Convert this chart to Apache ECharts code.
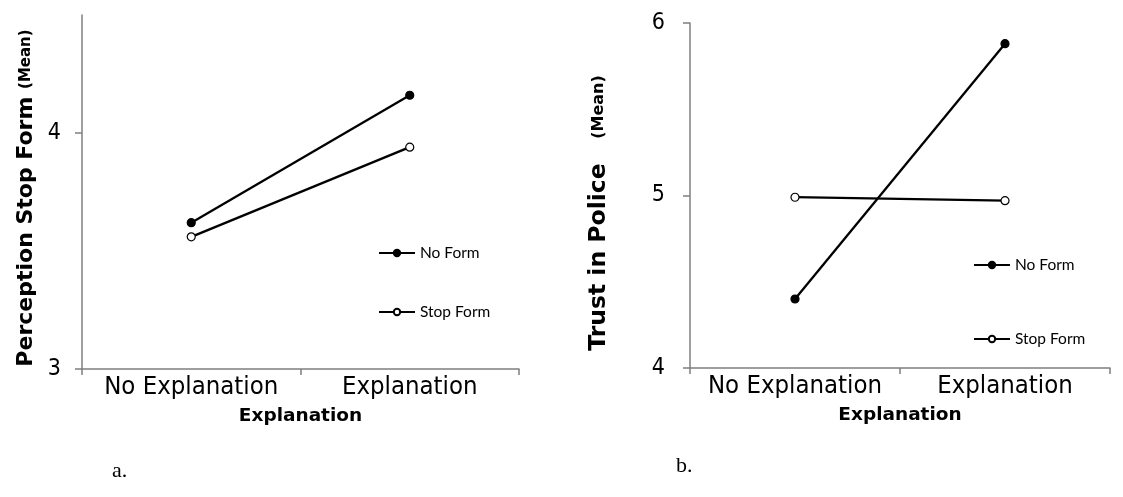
<!DOCTYPE html>
<html><head><meta charset="utf-8">
<script src="https://cdn.jsdelivr.net/npm/echarts@6/dist/echarts.min.js"></script>
<style>html,body{margin:0;padding:0;background:#fff}#c{width:1123px;height:497px}</style>
</head><body><div id="c"></div>
<script>
const categories = ['No Explanation', 'Explanation'];
const seriesNames = ['No Form', 'Stop Form'];
const perceptionNoForm = [3.62, 4.16];
const perceptionStopForm = [3.56, 3.94];
const trustNoForm = [4.40, 5.88];
const trustStopForm = [4.99, 4.97];
const leftTicks = [3, 4];
const rightTicks = [4, 5, 6];

const FONT = 'DejaVu Sans';
const axisGray = '#7f7f7f';

function xAxis(gridIndex, nameGap) {
  return {
    type: 'category', gridIndex, data: categories, boundaryGap: true,
    name: 'Explanation', nameLocation: 'middle', nameGap,
    nameTextStyle: {fontFamily: FONT, fontWeight: 'bold', fontSize: 18.5, color: '#000'},
    axisLine: {lineStyle: {color: axisGray, width: 1.5}},
    axisTick: {show: true, interval: 0, length: 6, lineStyle: {color: axisGray, width: 1.5}},
    axisLabel: {interval: 0, hideOverlap: false, fontFamily: 'DejaVu Sans Condensed', fontSize: 25.5, color: '#000', margin: 5}
  };
}
function yAxis(gridIndex, min, max, ticks, margin) {
  return {
    type: 'value', gridIndex, min, max, interval: 1,
    splitLine: {show: false},
    axisLine: {show: true, lineStyle: {color: axisGray, width: 1.5}},
    axisTick: {show: true, length: 7, customValues: ticks, lineStyle: {color: axisGray, width: 1.5}},
    axisLabel: {fontFamily: 'DejaVu Sans Condensed', fontSize: 23, color: '#000', margin, customValues: ticks}
  };
}
function line(name, data, idx, filled) {
  return {
    name, type: 'line', xAxisIndex: idx, yAxisIndex: idx, data,
    symbol: 'circle', symbolSize: 8,
    lineStyle: {color: '#000', width: 2.3},
    itemStyle: {color: filled ? '#000' : '#fff', borderColor: '#000', borderWidth: 1.2},
    emphasis: {disabled: true}, animation: false
  };
}
const chart = echarts.init(document.getElementById('c'));
chart.setOption({
  backgroundColor: '#fff',
  animation: false,
  grid: [
    {left: 82, width: 437, top: 15, bottom: 128},
    {left: 690, width: 420, top: 23, bottom: 129}
  ],
  xAxis: [xAxis(0, 38), xAxis(1, 38)],
  yAxis: [yAxis(0, 3, 4.5, leftTicks, 21), yAxis(1, 4, 6, rightTicks, 25)],
  legend: [
    {seriesIndex: [0, 1], data: seriesNames.slice(), left: 373, top: 240, orient: 'vertical',
     itemWidth: 36, itemHeight: 8, itemGap: 43, textStyle: {fontFamily: 'Lato', fontSize: 15.5, color: '#000'},
     selectedMode: false},
    {data: seriesNames.map(n => n + ' '), left: 968, top: 252, orient: 'vertical',
     itemWidth: 36, itemHeight: 8, itemGap: 58, textStyle: {fontFamily: 'Lato', fontSize: 15.5, color: '#000'},
     formatter: n => n.trim(), selectedMode: false}
  ],
  series: [
    line(seriesNames[0], perceptionNoForm, 0, true),
    line(seriesNames[1], perceptionStopForm, 0, false),
    line(seriesNames[0] + ' ', trustNoForm, 1, true),
    line(seriesNames[1] + ' ', trustStopForm, 1, false)
  ],
  graphic: [
    {type: 'text', x: 26, y: 198, rotation: Math.PI / 2,
     style: {text: 'Perception Stop Form {s|(Mean)}', fontFamily: FONT, fontWeight: 'bold', fontSize: 22, fill: '#000',
       align: 'center', verticalAlign: 'middle',
       rich: {s: {fontFamily: FONT, fontWeight: 'bold', fontSize: 15, fill: '#000'}}}},
    {type: 'text', x: 599, y: 213, rotation: Math.PI / 2,
     style: {text: 'Trust in Police   {s|(Mean)}', fontFamily: FONT, fontWeight: 'bold', fontSize: 23.5, fill: '#000',
       align: 'center', verticalAlign: 'middle',
       rich: {s: {fontFamily: FONT, fontWeight: 'bold', fontSize: 16, fill: '#000'}}}},
    {type: 'text', x: 112, y: 460, style: {text: 'a.', fontFamily: 'Liberation Serif', fontSize: 22, fill: '#000'}},
    {type: 'text', x: 676, y: 455, style: {text: 'b.', fontFamily: 'Liberation Serif', fontSize: 22, fill: '#000'}}
  ]
});
</script></body></html>
